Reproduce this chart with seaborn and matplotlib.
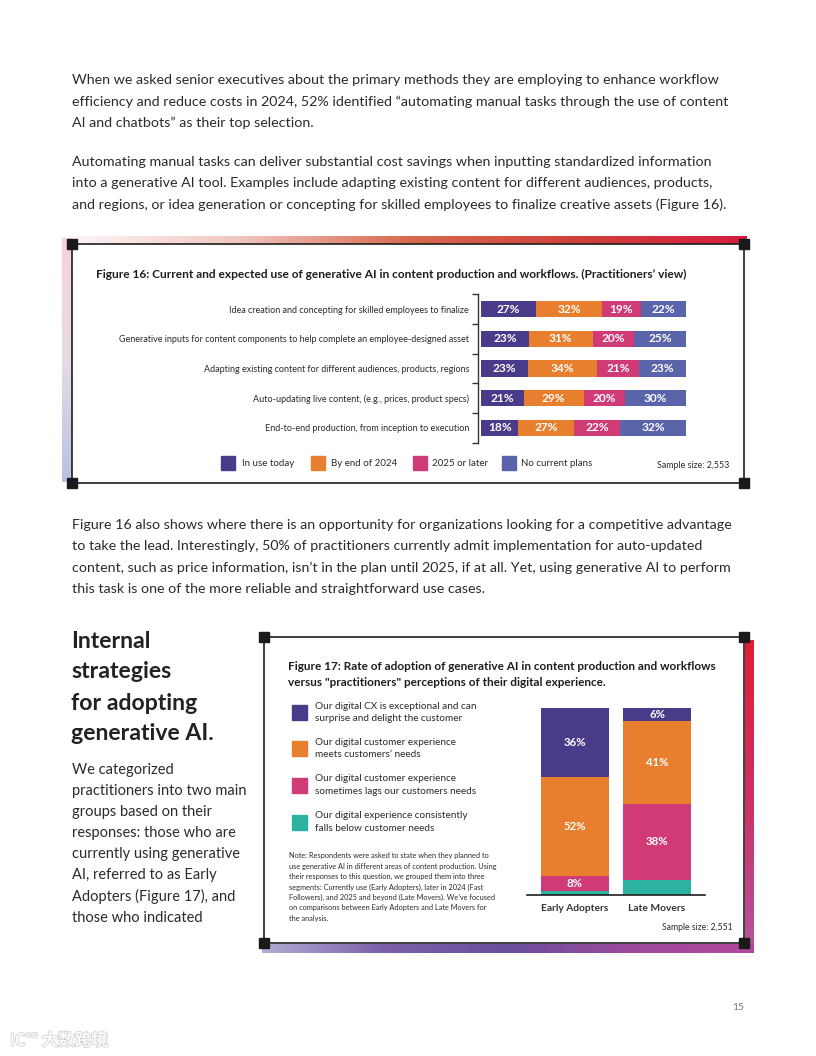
import numpy as np
import pandas as pd
import seaborn as sns
import matplotlib.pyplot as plt
from matplotlib.colors import LinearSegmentedColormap
from matplotlib.patches import Rectangle
from matplotlib.lines import Line2D
import matplotlib.patheffects as pe

# ---- Figure 16 data ----
practices = [
    "Idea creation and concepting for skilled employees to finalize",
    "Generative inputs for content components to help complete an employee-designed asset",
    "Adapting existing content for different audiences, products, regions",
    "Auto-updating live content, (e.g., prices, product specs)",
    "End-to-end production, from inception to execution",
]
in_use_today = [27, 23, 23, 21, 18]
by_end_2024 = [32, 31, 34, 29, 27]
later_2025 = [19, 20, 21, 20, 22]
no_plans = [22, 25, 23, 30, 32]
timing_names = ["In use today", "By end of 2024", "2025 or later", "No current plans"]

# ---- Figure 17 data ----
groups = ["Early Adopters", "Late Movers"]
cx_exceptional = [36, 6]
cx_meets = [52, 41]
cx_lags = [8, 38]
cx_falls_below = [2, 7]  # not labelled
cx_names = [
    "Our digital CX is exceptional and can\nsurprise and delight the customer",
    "Our digital customer experience\nmeets customers\u2019 needs",
    "Our digital customer experience\nsometimes lags our customers needs",
    "Our digital experience consistently\nfalls below customer needs",
]

PURPLE = "#4a3a8a"
ORANGE = "#e77f2e"
PINK = "#d03a75"
SLATE = "#5a64aa"
TEAL = "#2bb3a0"
TEXT = "#2b2b2b"

sns.set_theme(style="white")
plt.rcParams["font.family"] = ["Lato", "DejaVu Sans"]

W, H = 816, 1056
fig = plt.figure(figsize=(W / 100, H / 100), dpi=100)


def fx(x):
    return x / W


def fy(y):
    return 1 - y / H


def put(x, y, s, **kw):
    kw.setdefault("va", "center")
    kw.setdefault("color", TEXT)
    return fig.text(fx(x), fy(y), s, **kw)


def box_axes(l, t, r, b):
    return fig.add_axes([fx(l), fy(b), (r - l) / W, (b - t) / H])


def band(l, t, r, b, colors, vertical=False):
    ax = box_axes(l, t, r, b)
    cmap = LinearSegmentedColormap.from_list("band", colors)
    grad = np.linspace(0, 1, 256)
    grad = grad[:, None] if vertical else grad[None, :]
    ax.imshow(grad, aspect="auto", cmap=cmap, extent=(0, 1, 0, 1), origin="upper")
    ax.axis("off")


def frame(l, t, r, b):
    for xs, ys in [((l, r), (t, t)), ((l, r), (b, b)), ((l, l), (t, b)), ((r, r), (t, b))]:
        fig.add_artist(Line2D([fx(v) for v in xs], [fy(v) for v in ys],
                              color="#1e1e1e", lw=1.2, zorder=5))
    for cx, cy in [(l, t), (r, t), (l, b), (r, b)]:
        fig.add_artist(Rectangle((fx(cx - 5), fy(cy + 5)), 10 / W, 10 / H,
                                 transform=fig.transFigure, color="#1a1a1a", zorder=6))


# ---- body text ----
para1 = [
    "When we asked senior executives about the primary methods they are employing to enhance workflow",
    "efficiency and reduce costs in 2024, 52% identified \u201cautomating manual tasks through the use of content",
    "AI and chatbots\u201d as their top selection.",
]
para2 = [
    "Automating manual tasks can deliver substantial cost savings when inputting standardized information",
    "into a generative AI tool. Examples include adapting existing content for different audiences, products,",
    "and regions, or idea generation or concepting for skilled employees to finalize creative assets (Figure 16).",
]
para3 = [
    "Figure 16 also shows where there is an opportunity for organizations looking for a competitive advantage",
    "to take the lead. Interestingly, 50% of practitioners currently admit implementation for auto-updated",
    "content, such as price information, isn\u2019t in the plan until 2025, if at all. Yet, using generative AI to perform",
    "this task is one of the more reliable and straightforward use cases.",
]
for lines, y0 in [(para1, 80), (para2, 162), (para3, 525)]:
    for i, s in enumerate(lines):
        put(72, y0 + i * 21.3, s, fontsize=10.3)

heading = ["Internal", "strategies", "for adopting", "generative AI."]
for i, s in enumerate(heading):
    put(71, 641 + i * 31, s, fontsize=16.6, fontweight="bold", color="#222222")
side = ["We categorized", "practitioners into two main", "groups based on their",
        "responses: those who are", "currently using generative", "AI, referred to as Early",
        "Adopters (Figure 17), and", "those who indicated"]
for i, s in enumerate(side):
    put(72, 770 + i * 21.1, s, fontsize=10.5)

# ---- Figure 16 frame ----
band(70, 236, 746, 244, ["#fef6f7", "#f0c6c0", "#d86a4e", "#d0403a", "#d61c40"])
band(62, 238, 71, 482, ["#f7d3db", "#e7dbe6", "#b7c2e2"], vertical=True)
frame(72, 244, 744, 483)
put(96, 274, "Figure 16: Current and expected use of generative AI in content production "
    "and workflows. (Practitioners\u2019 view)", fontsize=8.6, fontweight="bold", color="#1e1e1e")

df16 = pd.DataFrame(dict(zip(timing_names, [in_use_today, by_end_2024, later_2025, no_plans])),
                    index=practices)
share16 = df16.div(df16.sum(axis=1), axis=0) * 100
cum16 = share16.cumsum(axis=1)
colors16 = [PURPLE, ORANGE, PINK, SLATE]

ax16 = box_axes(481, 294.2, 686, 442.8)
for name, col in reversed(list(zip(timing_names, colors16))):
    sns.barplot(x=cum16[name].values, y=practices, orient="h", color=col,
                saturation=1, width=0.54, linewidth=0, ax=ax16)
for i, p in enumerate(practices):
    start = 0
    for name in timing_names:
        ax16.text(start + share16.loc[p, name] / 2, i, f"{df16.loc[p, name]}%",
                  ha="center", va="center", color="white", fontsize=8.6, fontweight="bold")
        start += share16.loc[p, name]
ax16.set_xlim(0, 100)
ax16.set_ylim(4.5, -0.5)
ax16.set_xlabel("")
ax16.set_ylabel("")
ax16.set_xticks([])
ax16.set_yticks(np.arange(-0.5, len(practices)), minor=True)
ax16.tick_params(axis="y", which="major", length=0, pad=6, labelsize=6.5, labelcolor=TEXT)
ax16.tick_params(axis="y", which="minor", left=True, length=4, width=1, color="#333333")
ax16.set_yticks(range(len(practices)))
ax16.set_yticklabels(practices)
for s in ["top", "right", "bottom"]:
    ax16.spines[s].set_visible(False)
ax16.spines["left"].set_position(("outward", 2.5))
ax16.spines["left"].set_color("#333333")
ax16.spines["left"].set_linewidth(1)
ax16.patch.set_alpha(0)

leg16 = [(221, 242), (311, 331), (413, 432), (502, 521)]
for (sx, tx), name, col in zip(leg16, timing_names, colors16):
    fig.add_artist(Rectangle((fx(sx), fy(470)), 14 / W, 14 / H, transform=fig.transFigure, color=col))
    put(tx, 463, name, fontsize=7.0)
put(729, 465, "Sample size: 2,553", fontsize=6.4, ha="right")

# ---- Figure 17 frame ----
band(745, 640, 754, 953, ["#e21e36", "#cf2f64", "#b4559c"], vertical=True)
band(262, 944, 754, 953, ["#b3acd6", "#7a5fa8", "#6a4f9c", "#9b4a9d", "#b4479a"])
frame(264, 637, 744, 943)
put(288, 667, "Figure 17: Rate of adoption of generative AI in content production and workflows",
    fontsize=8.45, fontweight="bold", color="#1e1e1e")
put(288, 683, "versus \"practitioners\" perceptions of their digital experience.",
    fontsize=8.45, fontweight="bold", color="#1e1e1e")

colors17 = [PURPLE, ORANGE, PINK, TEAL]
for y, name, col in zip([712.5, 748.5, 785, 822], cx_names, colors17):
    fig.add_artist(Rectangle((fx(292), fy(y + 7.5)), 15 / W, 15 / H, transform=fig.transFigure, color=col))
    put(315, y, name, fontsize=7.2, linespacing=1.45)

note = ("Note: Respondents were asked to state when they planned to\n"
        "use generative AI in different areas of content production. Using\n"
        "their responses to this question, we grouped them into three\n"
        "segments: Currently use (Early Adopters), later in 2024 (Fast\n"
        "Followers), and 2025 and beyond (Late Movers). We\u2019ve focused\n"
        "on comparisons between Early Adopters and Late Movers for\n"
        "the analysis.")
put(289, 887, note, fontsize=5.3, linespacing=1.55)

df17 = pd.DataFrame({"falls": cx_falls_below, "lags": cx_lags, "meets": cx_meets,
                     "exceptional": cx_exceptional}, index=groups)
share17 = df17.div(df17.sum(axis=1), axis=0) * 100
cum17 = share17.cumsum(axis=1)
stack17 = [("falls", TEAL), ("lags", PINK), ("meets", ORANGE), ("exceptional", PURPLE)]

ax17 = box_axes(527.4, 708.4, 704.6, 894.6)
for key, col in reversed(stack17):
    sns.barplot(x=groups, y=cum17[key].values, color=col, saturation=1,
                width=0.83, linewidth=0, ax=ax17)
for j, g in enumerate(groups):
    start = 0
    for key, col in stack17:
        if key != "falls":
            ax17.text(j, start + share17.loc[g, key] / 2, f"{df17.loc[g, key]}%",
                      ha="center", va="center", color="white", fontsize=8.2, fontweight="bold")
        start += share17.loc[g, key]
ax17.set_xlim(-0.58, 1.58)
ax17.set_ylim(0, 100)
ax17.set_xlabel("")
ax17.set_ylabel("")
ax17.set_yticks([])
ax17.tick_params(axis="x", length=0, pad=7, labelsize=7.3, labelcolor="#333333")
ax17.set_xticks(range(len(groups)))
ax17.set_xticklabels(groups, fontweight="bold")
for s in ["top", "right", "left"]:
    ax17.spines[s].set_visible(False)
ax17.spines["bottom"].set_color("#1e1e1e")
ax17.spines["bottom"].set_linewidth(1.2)
ax17.patch.set_alpha(0)
put(733, 927, "Sample size: 2,551", fontsize=6.2, ha="right")

# ---- page furniture ----
put(744, 1007, "15", fontsize=7.5, color="#777777", ha="right")
wm = put(10, 1041, "IC\u00b0\u00b0 \u5927\u6570\u8de8\u5883", fontsize=12, color="white",
         family=["Noto Sans CJK SC", "DejaVu Sans"])
wm.set_path_effects([pe.withStroke(linewidth=1.4, foreground="#d2d2d2"), pe.Normal()])

fig.savefig("out.png", dpi=100)
